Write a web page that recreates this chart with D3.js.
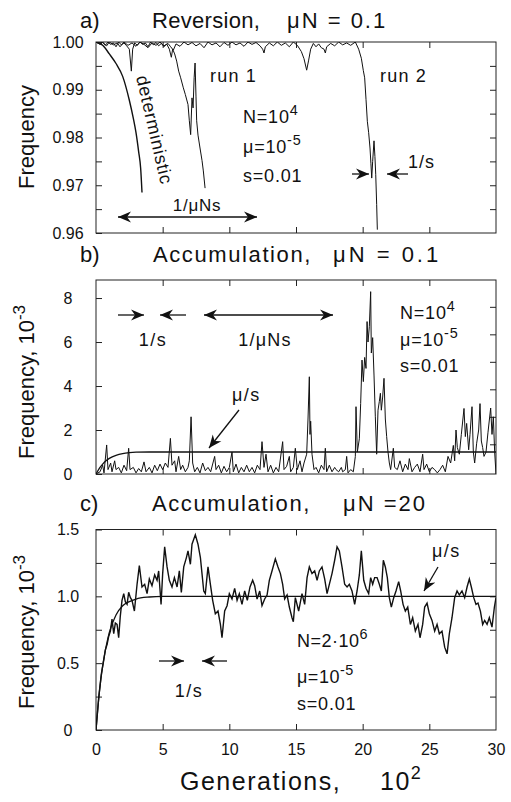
<!DOCTYPE html>
<html><head><meta charset="utf-8">
<script src="https://cdn.jsdelivr.net/npm/d3@7"></script>
<style>
body{margin:0;background:#fff;}
text{font-family:"Liberation Sans",Arial,Helvetica,sans-serif;fill:#111;}
</style></head>
<body><svg id="chart" width="511" height="802"></svg>
<script>
// ---------- DATA ----------
// Panel a: reversion (frequency vs generations, x in units of 10^2)
const aRun1 = [[0,1],[0.3,0.9996],[0.5,1],[0.7,0.9993],[0.9,1],[1.1,0.9995],[1.3,0.9998],[1.5,0.999],[1.7,1],[1.9,0.9994],[2.1,0.9998],[2.3,0.9992],[2.5,0.9985],[2.65,0.9939],[2.75,0.9985],[2.9,0.9998],[3.1,0.9993],[3.3,1],[3.5,0.9995],[3.7,0.9998],[3.9,0.999],[4.1,1],[4.3,0.9994],[4.5,0.9999],[4.7,0.9992],[4.9,0.9997],[5.1,0.999],[5.3,0.9996],[5.5,0.9985],[5.65,0.9968],[5.75,0.9985],[5.9,0.9975],[6.05,0.996],[6.2,0.9939],[6.35,0.9925],[6.55,0.9904],[6.7,0.989],[6.9,0.9869],[7.0,0.9835],[7.1,0.9806],[7.15,0.9845],[7.2,0.9883],[7.28,0.9862],[7.36,0.9925],[7.43,0.9956],[7.5,0.9885],[7.55,0.9835],[7.65,0.9805],[7.8,0.9778],[7.95,0.9752],[8.05,0.973],[8.18,0.9694]];
const aRun2 = [[0,1],[0.3,0.9995],[0.5,0.9999],[0.8,0.9992],[1.0,1],[1.3,0.9994],[1.6,0.9998],[1.8,0.999],[2.1,1],[2.4,0.9993],[2.7,0.9998],[3.0,0.9991],[3.3,1],[3.6,0.9995],[3.9,0.9988],[4.2,0.9998],[4.5,0.9993],[4.8,1],[5.1,0.9992],[5.4,0.9997],[5.6,0.999],[5.8,0.9983],[6.0,0.9996],[6.3,0.9991],[6.6,1],[6.9,0.9994],[7.2,0.9999],[7.5,0.9992],[7.8,0.9997],[8.1,0.9988],[8.4,1],[8.7,0.9994],[9.0,0.9998],[9.3,0.999],[9.6,0.9999],[9.9,0.9993],[10.2,1],[10.5,0.9994],[10.8,0.9998],[11.1,0.9991],[11.4,1],[11.7,0.9995],[12.0,0.9999],[12.3,0.9992],[12.5,0.9985],[12.6,0.9977],[12.7,0.999],[13.0,0.9998],[13.3,0.9992],[13.6,1],[13.9,0.9993],[14.2,0.9998],[14.5,0.999],[14.8,1],[15.1,0.9993],[15.4,0.998],[15.6,0.9965],[15.8,0.9941],[15.95,0.9962],[16.1,0.9985],[16.3,0.9997],[16.5,0.999],[16.7,0.9996],[16.9,0.9988],[17.1,0.9985],[17.2,0.9977],[17.3,0.999],[17.6,0.9997],[17.9,0.9992],[18.2,1],[18.5,0.9994],[18.8,0.9998],[19.1,0.9993],[19.45,1],[19.7,0.9985],[19.9,0.9966],[20.05,0.994],[20.15,0.9925],[20.25,0.988],[20.35,0.9834],[20.45,0.981],[20.55,0.9778],[20.62,0.9745],[20.68,0.9715],[20.75,0.975],[20.85,0.9793],[20.92,0.976],[20.98,0.9723],[21.05,0.966],[21.1,0.9607]];
const aDeterministic = [[0,1],[0.5,0.9993],[1.0,0.9975],[1.5,0.9955],[2.0,0.9928],[2.5,0.9878],[2.8,0.984],[3.0,0.981],[3.2,0.977],[3.35,0.9735],[3.45,0.9685]];
const aTicksY = [0.96,0.965,0.97,0.975,0.98,0.985,0.99,0.995,1.0];

// Panel b: accumulation, muN = 0.1 (frequency in 10^-3)
const bRun = [[0,0],[0.3,0.1],[0.5,0.4],[0.6,0.05],[0.8,1.32],[0.9,0.2],[1.1,0.5],[1.2,0.1],[1.4,0.6],[1.5,0.2],[1.7,0.3],[1.9,0.05],[2.1,0.4],[2.3,0.15],[2.45,1.17],[2.55,0.2],[2.8,0.3],[3.0,0.05],[3.2,0.25],[3.4,0.1],[3.6,0.55],[3.75,0.1],[4.0,0.3],[4.2,0.05],[4.4,0.4],[4.6,0.15],[4.8,0.45],[5.0,0.2],[5.2,0.5],[5.4,0.3],[5.58,1.62],[5.7,0.4],[5.9,0.6],[6.0,0.1],[6.2,0.8],[6.35,0.2],[6.5,0.4],[6.7,0.1],[6.9,0.3],[7.0,0.6],[7.13,2.6],[7.25,0.5],[7.4,0.1],[7.6,0.3],[7.8,0.05],[8.0,0.5],[8.2,0.15],[8.4,0.3],[8.6,0.1],[8.9,0.8],[9.0,0.2],[9.2,0.4],[9.4,0.05],[9.6,0.35],[9.8,0.1],[10.0,0.3],[10.2,1.0],[10.3,0.1],[10.5,0.45],[10.7,0.05],[10.9,0.3],[11.1,0.1],[11.3,0.4],[11.5,0.1],[11.7,0.3],[11.9,0.05],[12.1,0.4],[12.3,0.2],[12.45,1.47],[12.6,0.3],[12.75,0.9],[12.9,0.1],[13.1,0.4],[13.3,0.05],[13.5,0.3],[13.7,0.1],[14.0,1.47],[14.1,0.2],[14.3,0.35],[14.5,0.8],[14.6,0.1],[14.8,0.3],[14.95,1.17],[15.1,0.2],[15.3,0.6],[15.45,0.1],[15.6,0.5],[15.8,0.9],[15.9,2.5],[16.0,4.42],[16.05,1.8],[16.1,2.4],[16.2,0.9],[16.35,0.2],[16.5,0.3],[16.7,0.05],[16.9,0.4],[17.1,0.2],[17.2,1.17],[17.3,0.1],[17.5,0.4],[17.7,0.1],[17.9,0.3],[18.0,0.2],[18.2,0.1],[18.4,0.3],[18.5,0.1],[18.7,0.2],[18.8,0.8],[18.9,0.05],[19.1,0.2],[19.3,0.1],[19.45,0.8],[19.5,3.06],[19.6,1.0],[19.75,1.6],[19.85,3.2],[19.95,5.18],[20.05,4.2],[20.15,5.3],[20.25,4.8],[20.33,6.93],[20.4,6.0],[20.5,6.7],[20.6,8.29],[20.65,5.5],[20.75,6.2],[20.85,4.5],[20.95,2.6],[21.05,0.9],[21.15,2.9],[21.25,3.3],[21.33,3.67],[21.4,2.9],[21.5,3.5],[21.6,4.35],[21.7,2.5],[21.8,1.7],[21.9,1.0],[22.0,0.5],[22.1,0.2],[22.3,1.17],[22.4,0.3],[22.6,0.2],[22.8,0.6],[23.0,0.1],[23.2,0.45],[23.4,0.2],[23.5,0.7],[23.7,0.1],[23.9,0.3],[24.1,0.45],[24.3,0.1],[24.5,0.9],[24.6,0.2],[24.8,0.45],[25.0,0.1],[25.2,0.3],[25.4,0.2],[25.6,0.05],[25.8,0.2],[26.0,0.4],[26.2,0.1],[26.4,0.8],[26.6,0.5],[26.8,1.3],[26.9,0.6],[27.0,2.0],[27.1,1.2],[27.25,0.9],[27.4,1.8],[27.6,2.98],[27.7,1.7],[27.8,2.3],[27.95,1.1],[28.05,1.8],[28.2,3.06],[28.3,1.0],[28.4,0.5],[28.55,1.4],[28.7,2.0],[28.8,3.2],[28.9,1.5],[29.0,1.2],[29.1,0.8],[29.25,1.0],[29.4,1.9],[29.6,3.0],[29.7,1.8],[29.8,2.6],[29.9,1.0],[30.0,0]];
const bMeanCurve = [[0,0],[0.25,0.26],[0.5,0.45],[0.75,0.6],[1.0,0.71],[1.5,0.85],[2.0,0.93],[2.5,0.97],[3.0,0.99],[4.0,1.0],[30,1.0]];
const bTicksY = [0,2,4,6,8];
const bTicksYRight = [1.35,2.6,3.85,5.1,6.35,7.6];

// Panel c: accumulation, muN = 20 (frequency in 10^-3)
const cRun = [[0,0],[0.2,0.24],[0.4,0.42],[0.58,0.52],[0.7,0.6],[0.83,0.64],[0.95,0.7],[1.08,0.74],[1.2,0.83],[1.33,0.72],[1.45,0.8],[1.58,0.79],[1.7,0.69],[1.82,0.85],[1.95,0.97],[2.08,1.02],[2.2,0.96],[2.33,0.94],[2.45,1.03],[2.58,0.99],[2.7,0.97],[2.88,0.89],[3.08,1.09],[3.25,1.23],[3.35,1.15],[3.45,1.07],[3.65,1.09],[3.83,1.02],[4.0,1.13],[4.2,1.08],[4.4,1.16],[4.58,1.12],[4.7,1.19],[4.88,0.94],[5.0,1.17],[5.15,1.37],[5.33,1.22],[5.5,1.12],[5.7,1.07],[5.88,1.14],[6.08,1.07],[6.25,1.19],[6.4,1.03],[6.58,1.22],[6.78,1.29],[6.9,1.34],[7.08,1.24],[7.2,1.39],[7.45,1.46],[7.65,1.39],[7.83,1.29],[7.95,1.17],[8.08,1.04],[8.2,1.02],[8.4,1.22],[8.58,1.09],[8.75,0.97],[8.95,0.87],[9.15,0.89],[9.33,0.79],[9.45,0.69],[9.65,0.89],[9.83,0.93],[10.0,1.02],[10.2,0.98],[10.4,1.06],[10.58,0.97],[10.75,1.02],[10.95,0.94],[11.15,1.04],[11.35,0.97],[11.55,1.07],[11.75,1.12],[11.9,1.08],[12.08,0.98],[12.28,1.04],[12.45,0.93],[12.65,0.98],[12.83,1.01],[13.0,1.12],[13.2,1.19],[13.45,1.28],[13.65,1.22],[13.83,1.17],[14.0,1.09],[14.15,0.98],[14.33,1.01],[14.5,0.92],[14.7,0.84],[14.8,0.81],[14.95,0.99],[15.2,0.89],[15.45,1.02],[15.65,0.94],[15.83,1.14],[16.0,1.22],[16.2,1.17],[16.4,1.19],[16.58,1.12],[16.75,1.19],[16.95,1.22],[17.15,1.13],[17.33,1.02],[17.5,1.09],[17.7,1.17],[17.9,1.27],[18.08,1.37],[18.25,1.34],[18.45,1.22],[18.65,1.09],[18.83,1.07],[19.0,1.09],[19.2,1.04],[19.4,0.94],[19.58,1.04],[19.75,1.16],[19.9,1.34],[20.08,1.12],[20.25,1.06],[20.45,1.02],[20.6,1.14],[20.75,1.09],[20.9,1.14],[21.08,1.14],[21.25,1.09],[21.4,1.04],[21.55,1.27],[21.7,1.22],[21.85,1.14],[22.0,0.99],[22.15,0.92],[22.33,0.99],[22.5,1.04],[22.7,1.11],[22.85,1.04],[23.03,0.94],[23.2,0.89],[23.38,0.92],[23.58,0.79],[23.75,0.84],[23.95,0.74],[24.15,0.79],[24.3,0.69],[24.5,0.79],[24.65,0.92],[24.83,0.95],[25.0,0.87],[25.2,0.82],[25.4,0.74],[25.58,0.79],[25.75,0.72],[25.95,0.74],[26.15,0.62],[26.33,0.57],[26.5,0.72],[26.7,0.84],[26.9,0.99],[27.08,1.04],[27.25,1.01],[27.45,1.04],[27.65,0.99],[27.83,1.07],[28.0,1.13],[28.15,1.07],[28.33,0.99],[28.5,0.94],[28.65,0.95],[28.83,0.89],[29.0,0.79],[29.15,0.82],[29.33,0.79],[29.5,0.84],[29.7,0.77],[29.88,0.92],[30.0,0.99]];
const cMeanCurve = [[0,0],[0.25,0.28],[0.5,0.48],[0.75,0.62],[1.0,0.73],[1.5,0.86],[2.0,0.93],[2.5,0.96],[3.0,0.98],[4.0,0.995],[5.0,1.0],[30,1.0]];
const cTicksY = [0,0.25,0.5,0.75,1.0,1.25,1.5];
const xTicks = [0,5,10,15,20,25,30];

// ---------- LAYOUT ----------
const svg = d3.select("#chart");
const L = 96, R = 496;
const x = d3.scaleLinear().domain([0,30]).range([L,R]);
const panels = {
  a:{top:42,bottom:233,domain:[0.96,1.0]},
  b:{top:280,bottom:474,domain:[0,8.82]},
  c:{top:529.5,bottom:730,domain:[0,1.5]}
};
for (const k in panels){
  const p = panels[k];
  p.y = d3.scaleLinear().domain(p.domain).range([p.bottom,p.top]);
}

const defs = svg.append("defs");
defs.append("marker").attr("id","ah").attr("markerUnits","userSpaceOnUse")
  .attr("markerWidth",14).attr("markerHeight",12).attr("refX",13).attr("refY",6)
  .attr("orient","auto-start-reverse")
  .append("path").attr("d","M0,0.5 L13,6 L0,11.5 L4,6 Z").attr("fill","#111");
for (const k in panels){
  const p = panels[k];
  defs.append("clipPath").attr("id","clip"+k).append("rect")
    .attr("x",L).attr("y",p.top).attr("width",R-L).attr("height",p.bottom-p.top);
}

function frame(p){
  svg.append("rect").attr("x",L).attr("y",p.top).attr("width",R-L).attr("height",p.bottom-p.top)
    .attr("fill","none").attr("stroke","#222").attr("stroke-width",1);
}
function styleAxis(g){
  g.select(".domain").remove();
  g.selectAll(".tick line").attr("stroke","#222");
}
function drawAxes(p, yTicks, yFmt, rightTicks, showX){
  const gl = svg.append("g").attr("transform",`translate(${L},0)`)
    .call(d3.axisLeft(p.y).tickValues(yTicks).tickSizeInner(-6).tickSizeOuter(0).tickPadding(28).tickFormat(yFmt));
  styleAxis(gl);
  gl.selectAll("text").attr("text-anchor","middle").style("font-size","16px").style("font-family","Liberation Sans, Arial, sans-serif");
  const gr = svg.append("g").attr("transform",`translate(${R},0)`)
    .call(d3.axisRight(p.y).tickValues(rightTicks).tickSizeInner(-6).tickSizeOuter(0).tickFormat(""));
  styleAxis(gr);
  const gb = svg.append("g").attr("transform",`translate(0,${p.bottom})`)
    .call(d3.axisBottom(x).tickValues(showX ? xTicks : [5,10,15,20,25]).tickSizeInner(-6).tickSizeOuter(0).tickPadding(14)
      .tickFormat(showX ? d3.format("d") : ""));
  styleAxis(gb);
  gb.selectAll("text").style("font-size","16px").style("font-family","Liberation Sans, Arial, sans-serif");
  if (showX) gb.selectAll(".tick line").filter(d => d===0 || d===30).remove();
  const gt = svg.append("g").attr("transform",`translate(0,${p.top})`)
    .call(d3.axisTop(x).tickValues([5,10,15,20,25]).tickSizeInner(-6).tickSizeOuter(0).tickFormat(""));
  styleAxis(gt);
}
function trace(p, key, data, w){
  const line = d3.line().x(d=>x(d[0])).y(d=>p.y(d[1]));
  svg.append("path").datum(data).attr("clip-path",`url(#clip${key})`)
    .attr("d",line).attr("fill","none").attr("stroke","#111").attr("stroke-width",w||1)
    .attr("stroke-linejoin","miter");
}
function smooth(p, key, data, w){
  const line = d3.line().curve(d3.curveMonotoneX).x(d=>x(d[0])).y(d=>p.y(d[1]));
  svg.append("path").datum(data).attr("clip-path",`url(#clip${key})`)
    .attr("d",line).attr("fill","none").attr("stroke","#111").attr("stroke-width",w||1.3);
}
function txt(xp, yp, s, size, anchor){
  return svg.append("text").attr("x",xp).attr("y",yp).attr("font-size",size).attr("text-anchor",anchor||"start").text(s);
}
function supTxt(xp, yp, base, sup, size, anchor){
  const t = svg.append("text").attr("x",xp).attr("y",yp).attr("font-size",size).attr("text-anchor",anchor||"start");
  t.append("tspan").text(base);
  t.append("tspan").attr("dy",-size*0.42).attr("font-size",size*0.8).text(sup);
  return t;
}
function arrow(x1,y1,x2,y2,both){
  const l = svg.append("line").attr("x1",x1).attr("y1",y1).attr("x2",x2).attr("y2",y2)
    .attr("stroke","#111").attr("stroke-width",1.3).attr("marker-end","url(#ah)");
  if (both) l.attr("marker-start","url(#ah)");
}
function yTitle(yc, base, sup){
  const t = svg.append("text").attr("transform",`translate(34,${yc}) rotate(-90)`).attr("font-size",22).attr("text-anchor","middle");
  t.append("tspan").text(base);
  if (sup){ t.append("tspan").attr("dy",-9).attr("font-size",17).text(sup); }
}

// ---------- PANEL A ----------
const pa = panels.a;
frame(pa);
drawAxes(pa, aTicksY, d => (Math.round(d*1000)%10===0 ? d.toFixed(2) : ""), aTicksY.slice(1,-1), false);
trace(pa,"a",aRun2,1);
trace(pa,"a",aRun1,1);
smooth(pa,"a",aDeterministic,1.4);
txt(80,28,"a)",22); txt(152,28,"Reversion,",22).attr("letter-spacing",0.3);
txt(287,28,"μN = 0.1",22).attr("letter-spacing",2);
yTitle(137,"Frequency");
svg.append("text").attr("transform","translate(136,77) rotate(77)").attr("font-size",18).attr("letter-spacing",0.8).text("deterministic");
txt(210,82,"run 1",18).attr("letter-spacing",1.2);
txt(380,82,"run 2",18).attr("letter-spacing",1.2);
supTxt(243,123,"N=10","4",18).attr("letter-spacing",0.8);
supTxt(243,153,"μ=10","-5",18).attr("letter-spacing",0.8);
txt(243,182,"s=0.01",18).attr("letter-spacing",0.8);
txt(197,211,"1/μNs",17,"middle").attr("letter-spacing",0.8);
arrow(118,217,257,217,true);
txt(408,168,"1/s",18).attr("letter-spacing",1);
arrow(352,174,369,174);
arrow(408,174,387,174);

// ---------- PANEL B ----------
const pb = panels.b;
frame(pb);
drawAxes(pb, bTicksY, d3.format("d"), bTicksYRight, false);
trace(pb,"b",bRun,1);
smooth(pb,"b",bMeanCurve,1.3);
txt(80,262,"b)",22); txt(153,262,"Accumulation,",22).attr("letter-spacing",1.6);
txt(333,262,"μN = 0.1",22).attr("letter-spacing",3);
yTitle(382,"Frequency, 10","-3");
arrow(118,315,144,315);
arrow(186,315,160,315);
txt(153,346,"1/s",18,"middle").attr("letter-spacing",1.5);
arrow(204,315,333,315,true);
txt(265,346,"1/μNs",18,"middle").attr("letter-spacing",1.2);
txt(232,401,"μ/s",18).attr("letter-spacing",1.5);
arrow(239,410,209,448);
supTxt(400,319,"N=10","4",18).attr("letter-spacing",0.8);
supTxt(400,346,"μ=10","-5",18).attr("letter-spacing",0.8);
txt(400,372,"s=0.01",18).attr("letter-spacing",0.8);

// ---------- PANEL C ----------
const pc = panels.c;
frame(pc);
drawAxes(pc, cTicksY, d => (d===0 ? "0" : (Math.round(d*100)%50===0 ? d.toFixed(1) : "")), cTicksY.slice(1,-1), true);
trace(pc,"c",cRun,1.4);
smooth(pc,"c",cMeanCurve,1.3);
txt(80,511,"c)",22); txt(152,511,"Accumulation,",22).attr("letter-spacing",1.6);
txt(343,511,"μN =20",22).attr("letter-spacing",2);
yTitle(632,"Frequency, 10","-3");
arrow(159,661,184,661);
arrow(227,661,202,661);
txt(189,697,"1/s",18,"middle").attr("letter-spacing",1.5);
supTxt(297,647,"N=2·10","6",18).attr("letter-spacing",0.5);
supTxt(297,683,"μ=10","-5",18).attr("letter-spacing",0.5);
txt(297,710,"s=0.01",18).attr("letter-spacing",0.8);
txt(432,557,"μ/s",18).attr("letter-spacing",1.5);
arrow(438,567,424,591);

// x-axis title
const gt = svg.append("text").attr("x",180).attr("y",790).attr("font-size",25).attr("letter-spacing",1.5);
gt.append("tspan").text("Generations,");
gt.append("tspan").attr("x",380).text("10");
gt.append("tspan").attr("dy",-11).attr("font-size",18).text("2");
</script></body></html>
